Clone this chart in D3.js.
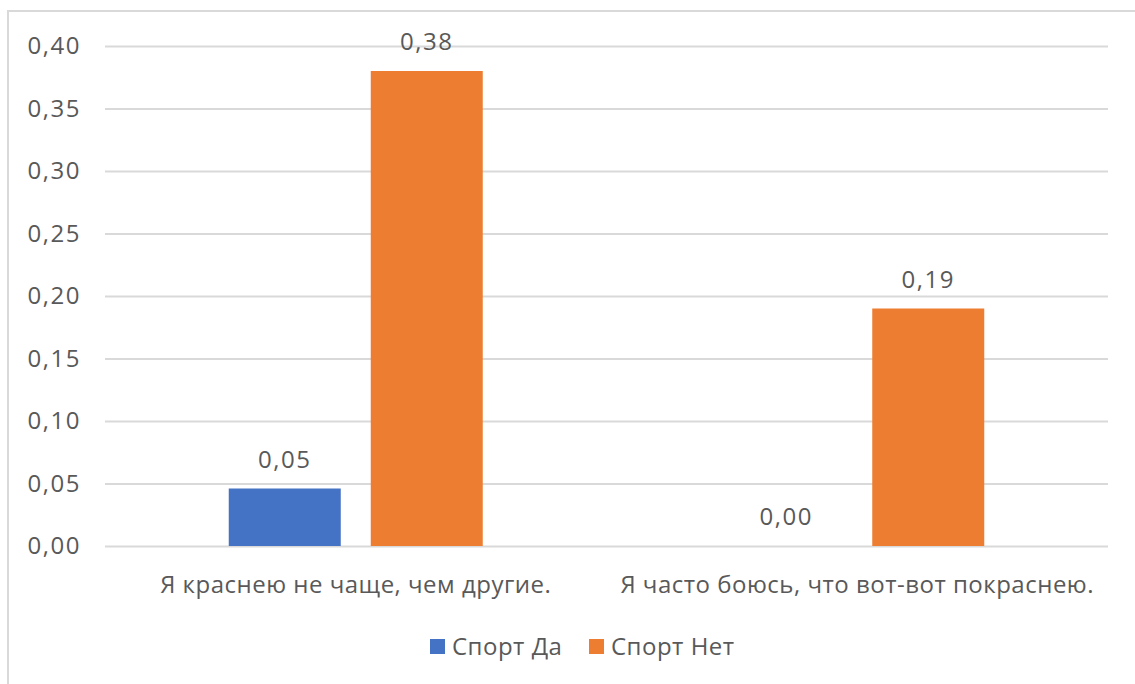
<!DOCTYPE html>
<html>
<head>
<meta charset="utf-8">
<script src="https://cdn.jsdelivr.net/npm/d3@7"></script>
<style>
  html, body { margin: 0; padding: 0; background: #fff; }
  svg { display: block; }
  text { font-family: "Open Sans", "Noto Sans", sans-serif; fill: #595959; }
</style>
</head>
<body>
<svg id="chart" width="1135" height="684"></svg>
<script>
// Categories, series and tick values
const categories = ["Я краснею не чаще, чем другие.", "Я часто боюсь, что вот-вот покраснею."];
const seriesNames = ["Спорт Да", "Спорт Нет"];
const sportYes = [0.046, 0.0];
const sportNo = [0.38, 0.19];
const yTicks = [0, 0.05, 0.10, 0.15, 0.20, 0.25, 0.30, 0.35, 0.40];
const colors = ["#4472C4", "#ED7D31"];

const seriesValues = [sportYes, sportNo];
const fmt = v => d3.format(".2f")(v).replace(".", ",");

const svg = d3.select("#chart");
const W = 1135, H = 684;
const plot = { left: 105, right: 1108, top: 46, bottom: 546 };

// outer chart frame
svg.append("rect")
  .attr("x", 8).attr("y", 11)
  .attr("width", W + 10).attr("height", H + 10)
  .attr("fill", "#fff").attr("stroke", "#D9D9D9").attr("stroke-width", 2);

const x0 = d3.scaleBand().domain(categories).range([plot.left, plot.right]).paddingInner(0).paddingOuter(0);
const y = d3.scaleLinear().domain([0, 0.40]).range([plot.bottom, plot.top]);

// gridlines + tick labels
const yAxis = d3.axisLeft(y).tickValues(yTicks).tickFormat(fmt)
  .tickSize(-(plot.right - plot.left)).tickPadding(24);
const gy = svg.append("g").attr("transform", `translate(${plot.left},0)`).call(yAxis);
gy.select(".domain").remove();
gy.selectAll(".tick line").attr("stroke", "#D9D9D9").attr("stroke-width", 2);
gy.selectAll(".tick text").attr("font-size", 24).style("fill", "#595959")
  .style("letter-spacing", "1.5px")
  .attr("font-family", "'Open Sans', sans-serif");

// bars: bar width and gap inside each category band
const barW = 112, barGap = 30;
const x1 = d3.scaleBand().domain(seriesNames)
  .range([0, 2 * barW + barGap]).paddingInner(barGap / (barW + barGap)).paddingOuter(0);
const groupOffset = (x0.bandwidth() - (2 * barW + barGap)) / 2;

const groups = svg.append("g").selectAll("g").data(categories).join("g")
  .attr("transform", d => `translate(${x0(d) + groupOffset},0)`);

groups.each(function (cat, ci) {
  const g = d3.select(this);
  seriesNames.forEach((s, si) => {
    const v = seriesValues[si][ci];
    g.append("rect")
      .attr("x", x1(s)).attr("width", x1.bandwidth())
      .attr("y", y(v)).attr("height", y(0) - y(v))
      .attr("fill", colors[si]);
    g.append("text")
      .attr("x", x1(s) + x1.bandwidth() / 2)
      .attr("y", y(v) - 21)
      .attr("text-anchor", "middle")
      .attr("font-size", 24)
      .style("letter-spacing", "1.5px")
      .text(fmt(v));
  });
});

// category axis labels
const xAxis = d3.axisBottom(x0).tickSize(0).tickPadding(30);
const gx = svg.append("g").attr("transform", `translate(0,${plot.bottom})`).call(xAxis);
gx.select(".domain").remove();
gx.selectAll(".tick text").attr("font-size", 24).style("fill", "#595959")
  .style("letter-spacing", "0.5px")
  .attr("font-family", "'Open Sans', sans-serif");

// legend
const legend = svg.append("g").attr("transform", "translate(430,647)");
const legendX = [0, 159];
seriesNames.forEach((s, i) => {
  const lg = legend.append("g").attr("transform", `translate(${legendX[i]},0)`);
  lg.append("rect").attr("x", 0).attr("y", -8).attr("width", 15).attr("height", 15).attr("fill", colors[i]);
  lg.append("text").attr("x", 22).attr("y", 0).attr("dy", "0.35em").attr("font-size", 24)
    .style("letter-spacing", "0.5px").text(s);
});
</script>
</body>
</html>
